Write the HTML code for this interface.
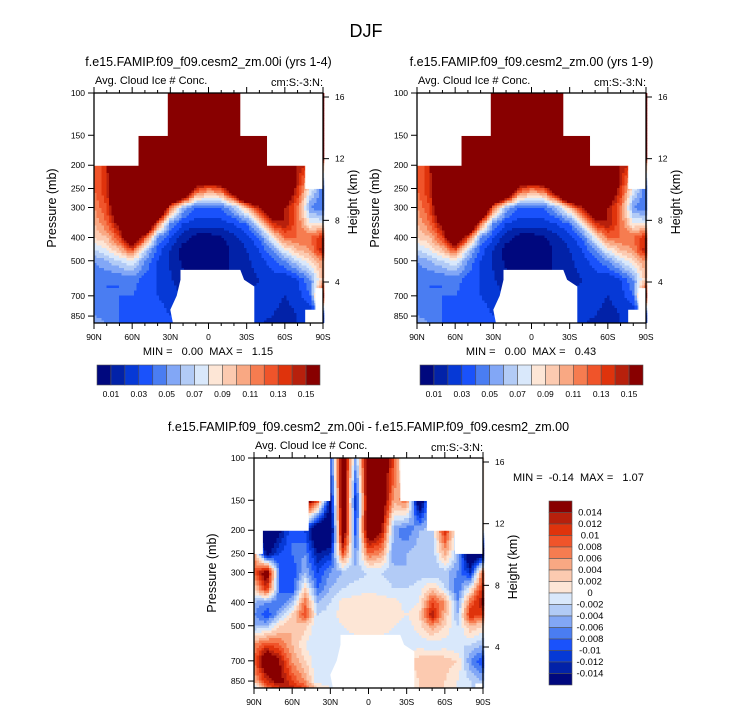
<!DOCTYPE html>
<html><head><meta charset="utf-8"><style>
html,body{margin:0;padding:0;background:#fff;}
svg{display:block;font-family:"Liberation Sans",sans-serif;}
.pre{white-space:pre;}
</style></head><body>
<svg id="fig" width="733" height="712" viewBox="0 0 733 712" xmlns="http://www.w3.org/2000/svg">
<text x="366" y="37" font-size="18" text-anchor="middle">DJF</text>
</svg>
<script>
// ---------- data ----------
const lats = [90,80,70,60,50,40,30,20,10,0,-10,-20,-30,-40,-50,-60,-70,-80,-90];
const levs = [100,150,200,250,300,350,400,450,500,600,700,850,925];
const latTicks = [90,60,30,0,-30,-60,-90];
const latTickLabels = ["90N","60N","30N","0","30S","60S","90S"];
const presTicks = [100,150,200,250,300,400,500,700,850];
const heightTicks = [4,8,12,16];
const absLevels = [0.01,0.02,0.03,0.04,0.05,0.06,0.07,0.08,0.09,0.10,0.11,0.12,0.13,0.14,0.15];
const absLabels = ["0.01","0.03","0.05","0.07","0.09","0.11","0.13","0.15"];
const diffLevels = [-0.014,-0.012,-0.01,-0.008,-0.006,-0.004,-0.002,0,0.002,0.004,0.006,0.008,0.01,0.012,0.014];
const diffLabels = ["-0.014","-0.012","-0.01","-0.008","-0.006","-0.004","-0.002","0","0.002","0.004","0.006","0.008","0.01","0.012","0.014"];
const palette = ["#00087e","#0222a8","#0639d6","#1a52fb","#4a7df2","#82a7f6","#b2cbf6","#d9e8fb","#fde6d6","#fccab0","#f9a883","#f67c50","#f0542a","#df330c","#b7200c","#880000"];

const valsA = [
[.3,.3,.3,.3,.3,.3,.3,.3,.3,.3,.3,.3,.3,.3,.3,.3,.3,.3,.3],
[.3,.3,.3,.3,.3,.3,.3,.3,.3,.3,.3,.3,.3,.3,.3,.3,.3,.3,.3],
[.12,.14,.3,.3,.3,.3,.3,.3,.3,.3,.3,.3,.3,.3,.3,.25,.15,.13,.1],
[.12,.14,.2,.3,.3,.3,.3,.25,.14,.12,.13,.2,.3,.3,.25,.2,.14,.08,.04],
[.11,.13,.2,.3,.3,.25,.12,.06,.04,.04,.04,.06,.1,.15,.2,.15,.12,.05,.04],
[.10,.12,.16,.3,.25,.12,.05,.03,.025,.025,.025,.03,.04,.08,.14,.15,.12,.08,.08],
[.09,.10,.13,.2,.13,.05,.03,.015,.005,.005,.008,.018,.025,.04,.08,.12,.12,.12,.14],
[.07,.08,.10,.13,.07,.035,.02,.005,.005,.005,.005,.012,.02,.03,.05,.08,.10,.11,.15],
[.05,.06,.07,.08,.05,.03,.018,.008,.005,.005,.006,.012,.018,.025,.035,.05,.07,.09,.11],
[.04,.04,.04,.045,.035,.03,.022,.012,.008,.008,.008,.012,.015,.02,.025,.02,.03,.05,.10],
[.045,.04,.04,.04,.035,.03,.025,.02,.02,.02,.02,.02,.02,.025,.025,.02,.025,.04,.15],
[.05,.045,.04,.035,.04,.035,.03,.03,.03,.03,.03,.03,.025,.025,.02,.015,.02,.02,.02],
[.06,.05,.04,.035,.04,.035,.03,.03,.03,.03,.03,.03,.025,.02,.015,.015,.02,.02,.02]];
const valsB = valsA.map(r=>r.slice());
const valsD = [
[0,0,0,0,0,0,-.010,.020,-.005,.020,.020,.010,-.010,0,0,0,0,0,0],
[0,0,0,0,.020,.010,-.015,.020,-.012,.020,.020,.005,.008,-.020,0,0,0,0,0],
[-.020,-.020,-.015,-.008,-.010,-.020,-.020,.020,-.010,.020,.015,-.005,-.008,-.004,-.003,.012,-.002,0,0],
[.006,-.016,-.010,-.008,-.006,-.014,-.012,.010,-.006,.008,.006,-.006,-.004,-.003,-.004,.005,-.004,-.020,-.018],
[.008,.018,-.008,-.010,-.004,-.010,-.006,-.004,-.003,-.002,-.002,-.003,-.004,-.003,-.004,-.003,-.006,-.012,.008],
[.002,.012,-.008,-.010,.002,-.008,-.004,-.002,-.001,-.001,-.001,-.002,-.002,-.001,.003,-.002,-.008,0,.012],
[-.004,-.006,-.008,-.004,.008,-.004,-.002,.001,.001,.002,.001,.001,-.001,0,.010,.006,-.006,.008,.015],
[-.006,-.010,-.004,.002,.010,-.002,-.001,.001,.002,.002,.002,.001,0,.002,.014,.004,-.004,.012,.010],
[-.004,-.004,.002,.004,.003,-.002,-.001,0,.001,.001,.001,0,-.001,.001,.006,.002,-.002,.004,.002],
[.006,.010,.008,.004,0,-.002,-.001,-.001,-.001,-.001,-.001,-.001,-.001,-.001,-.002,-.001,-.002,-.002,-.004],
[.008,.020,.014,.006,.002,-.002,-.001,0,0,0,0,0,.001,.003,.004,.003,.002,-.006,-.010],
[.004,.012,.016,.010,.006,-.002,-.001,0,0,0,0,0,.001,.002,.002,.002,0,-.002,-.004],
[-.006,.006,.010,.014,.010,.004,0,0,0,0,0,0,.001,.002,.002,.002,0,-.002,-.004]];
// masks as [latA, latB, pTop, pBottom] rectangles in data space
const maskTop = [[90,32,95,151],[-25,-90,95,151],[90,55,149,201],[-46,-90,149,201],[-76,-90,199,251],[-76,-90,800,930],[-84,-90,650,930]];
const maskBot = [[90,30,95,151],[-25,-90,95,151],[90,47,149,201],[-46,-90,149,201],[90,83,199,251],[-68,-90,199,251],[-84,-90,870,930]];
const holeLats = [22,-25,-28,-36,-36,28,30,25,22];
const holePres = [546,546,600,640,930,930,800,700,600];

// ---------- drawing ----------
const NS="http://www.w3.org/2000/svg";
const svg=document.getElementById('fig');
function el(tag,attrs,parent){const e=document.createElementNS(NS,tag);for(const k in attrs)e.setAttribute(k,attrs[k]);(parent||svg).appendChild(e);return e;}
const W=229,H=230;
function colorFor(v,levels){let i=0;while(i<levels.length&&v>=levels[i])i++;return palette[i];}
function interp(vals,lat,p){
  let fi=(90-lat)/10; fi=Math.max(0,Math.min(17.999,fi));
  const lp=Math.log(p); let j=0;
  while(j<levs.length-2&&lp>Math.log(levs[j+1]))j++;
  let fj=(lp-Math.log(levs[j]))/(Math.log(levs[j+1])-Math.log(levs[j])); fj=Math.max(0,Math.min(1,fj));
  const i=Math.floor(fi),a=fi-i;
  const v00=vals[j][i],v01=vals[j][i+1],v10=vals[j+1][i],v11=vals[j+1][i+1];
  return (v00*(1-a)+v01*a)*(1-fj)+(v10*(1-a)+v11*a)*fj;
}
function panel(x0,y0,vals,levels,masks,title,name){
  const g=el('g',{},svg);
  
  
  const xS=lat=>x0+(90-lat)/180*W;
  const yS=p=>y0+240*Math.log10(p/100);
  const pOf=y=>100*Math.pow(10,(y-y0)/240);
  const latOf=x=>90-(x-x0)/W*180;
  const step=2.5,n=Math.round(W/step);
  const field=el('g',{},g);
  
  
  for(let r=0;r<Math.ceil(H/step);r++){
    const yc=y0+(r+0.5)*step,p=pOf(yc);
    let runStart=0,runCol=null;
    for(let c=0;c<=n;c++){
      const col=c<n?colorFor(interp(vals,latOf(x0+(c+0.5)*step),p),levels):null;
      if(col!==runCol){
        if(runCol!==null){
          el('rect',{x:(x0+runStart*step).toFixed(2),y:(y0+r*step).toFixed(2),width:((c-runStart)*step+0.3).toFixed(2),height:(Math.min(step+0.3,y0+H-(y0+r*step))).toFixed(2),fill:runCol},field);
        }
        runStart=c;runCol=col;
      }
    }
  }
  for(const m of masks){
    const yt=Math.max(yS(m[2]),y0);
    const mr=el('rect',{x:xS(m[0]),y:yt,width:xS(m[1])-xS(m[0]),height:Math.min(yS(m[3]),y0+H)-yt,fill:'#fff'},g);
    
    
  }
  const pts=holeLats.map((l,i)=>xS(l).toFixed(1)+','+Math.min(yS(holePres[i]),y0+H).toFixed(1)).join(' ');
  const hp=el('polygon',{points:pts,fill:'#fff'},g);
  
  
  const fr=el('rect',{x:x0,y:y0,width:W,height:H,fill:'none',stroke:'#000','stroke-width':1.3},g);
  
  
  for(let l=90;l>=-90;l-=10){
    const x=xS(l),maj=l%30===0;
    el('line',{x1:x,x2:x,y1:y0+H,y2:y0+H+(maj?6:3),stroke:'#000','stroke-width':1},g);
    el('line',{x1:x,x2:x,y1:y0,y2:y0-(maj?6:3),stroke:'#000','stroke-width':1},g);
  }
  latTicks.forEach((l,i)=>{
    const t=el('text',{x:xS(l),y:y0+H+17,'font-size':8.5,'text-anchor':'middle'},g);t.textContent=latTickLabels[i];
    
    
  });
  presTicks.forEach(p=>{
    const y=yS(p);
    el('line',{x1:x0,x2:x0-6,y1:y,y2:y,stroke:'#000','stroke-width':1},g);
    const t=el('text',{x:x0-9,y:y+3,'font-size':8.5,'text-anchor':'end'},g);t.textContent=p;
    
    
  });
  heightTicks.forEach(h=>{
    const y=yS(1108*Math.exp(-h/6.76));
    el('line',{x1:x0+W,x2:x0+W+6,y1:y,y2:y,stroke:'#000','stroke-width':1},g);
    const t=el('text',{x:x0+W+12,y:y+3,'font-size':8.5},g);t.textContent=h;
    
    
  });
  let t=el('text',{x:0,y:0,'font-size':12.5,'text-anchor':'middle',transform:`translate(${x0-38},${y0+H/2}) rotate(-90)`},g);t.textContent='Pressure (mb)';
  
  
  t=el('text',{x:0,y:0,'font-size':12.5,'text-anchor':'middle',transform:`translate(${x0+W+34},${y0+H/2-6}) rotate(-90)`},g);t.textContent='Height (km)';
  
  
  t=el('text',{x:x0+1,y:y0-9,'font-size':11},g);t.textContent='Avg. Cloud Ice # Conc.';
  
  
  t=el('text',{x:x0+W,y:y0-7,'font-size':11,'text-anchor':'end'},g);t.textContent='cm:S:-3:N:';
  
  
  t=el('text',{x:x0+W/2,y:y0-27,'font-size':12.5,'text-anchor':'middle'},g);t.textContent=title;
  
  
  return g;
}
function hbar(x0,y0,w,h){
  const g=el('g',{},svg);
  
  
  const bw=w/palette.length;
  palette.forEach((c,i)=>el('rect',{x:x0+i*bw,y:y0,width:bw,height:h,fill:c,stroke:'#555','stroke-width':0.6},g));
  absLevels.forEach((lv,i)=>{
    if(i%2) return;
    const t=el('text',{x:x0+(i+1)*bw,y:y0+h+12,'font-size':8.5,'text-anchor':'middle'},g);t.textContent=absLabels[i/2];
    
    
  });
}
function minmax(x,y,txt,anchor){
  const t=el('text',{x:x,y:y,'font-size':11,'text-anchor':anchor,'class':'pre'});t.textContent=txt;
  
  
}
panel(94,93,valsA,absLevels,maskTop,'f.e15.FAMIP.f09_f09.cesm2_zm.00i (yrs 1-4)','panel-case');
panel(417,93,valsB,absLevels,maskTop,'f.e15.FAMIP.f09_f09.cesm2_zm.00 (yrs 1-9)','panel-control');
panel(254,458,valsD,diffLevels,maskBot,'f.e15.FAMIP.f09_f09.cesm2_zm.00i - f.e15.FAMIP.f09_f09.cesm2_zm.00','panel-difference');
minmax(208,355,'MIN =   0.00  MAX =   1.15','middle');
minmax(531,355,'MIN =   0.00  MAX =   0.43','middle');
minmax(513,481,'MIN =  -0.14  MAX =   1.07','start');
hbar(97,365,223,20);
hbar(420,365,223,20);
(function(){
  const x0=549,y0=501,w=23,h=184,bh=h/palette.length;
  const g=el('g',{},svg);
  
  
  palette.slice().reverse().forEach((c,i)=>el('rect',{x:x0,y:y0+i*bh,width:w,height:bh,fill:c,stroke:'#555','stroke-width':0.6},g));
  diffLabels.slice().reverse().forEach((lb,i)=>{
    const t=el('text',{x:x0+w+18,y:y0+(i+1)*bh+3,'font-size':9.5,'text-anchor':'middle'},g);t.textContent=lb;
    
    
  });
})();
</script>
</body></html>
